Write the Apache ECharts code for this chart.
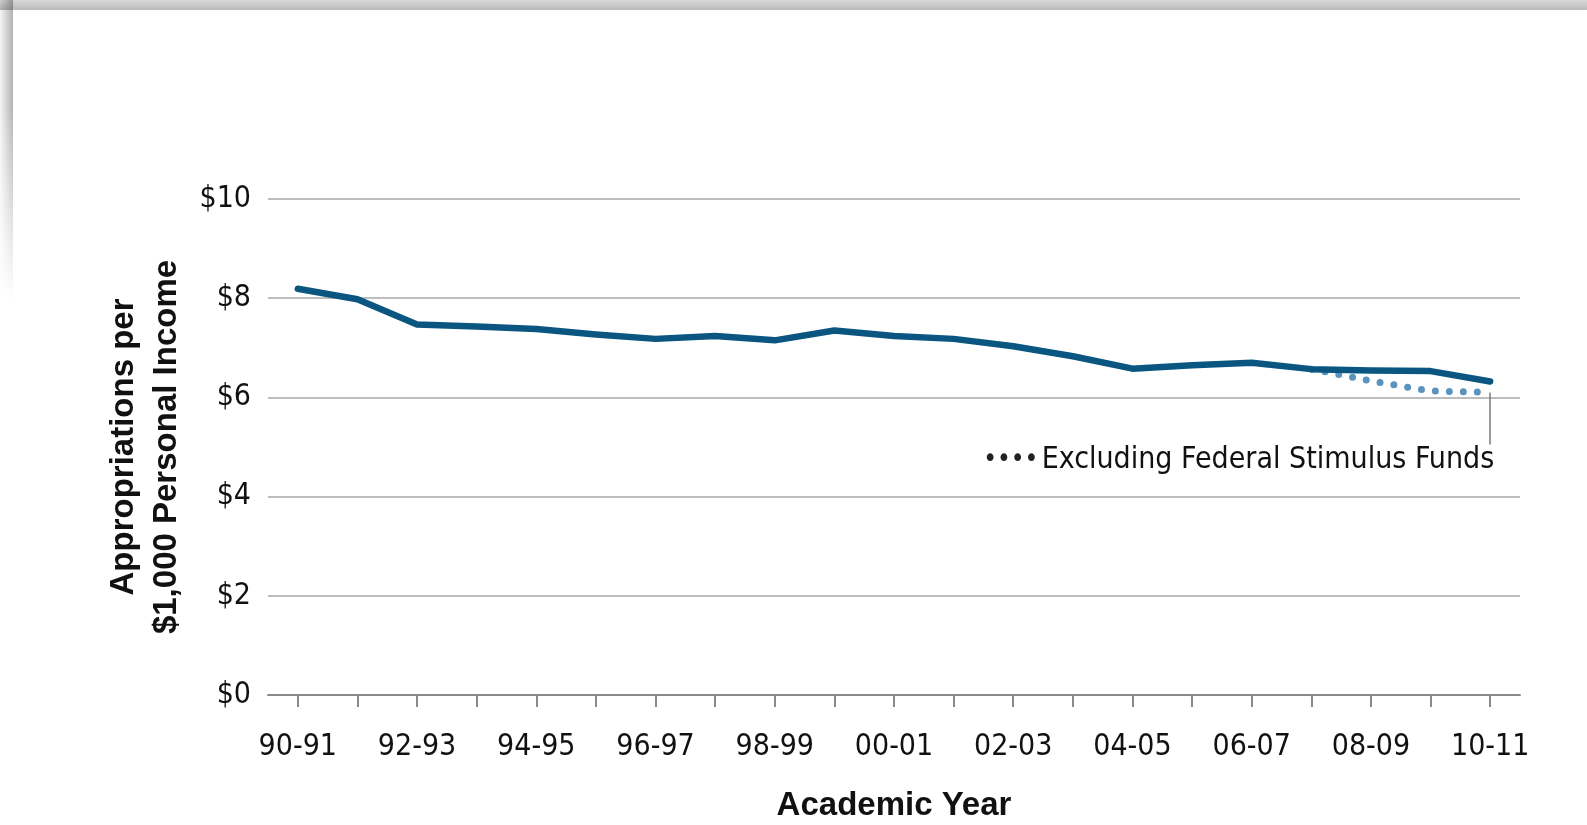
<!DOCTYPE html>
<html>
<head>
<meta charset="utf-8">
<script src="https://cdn.jsdelivr.net/npm/echarts@6/dist/echarts.min.js"></script>
<style>
  html, body { margin: 0; padding: 0; background: #fff; }
  #wrap { position: relative; width: 1587px; height: 825px; overflow: hidden; background: #fff; }
  #topShade { position: absolute; left: 0; top: 0; width: 1587px; height: 10px;
    background: linear-gradient(to bottom, #d9d9d9, #b9b9b9); }
  #leftShade { position: absolute; left: 0; top: 0; width: 13px; height: 300px;
    background: linear-gradient(to right, rgba(0,0,0,0.04), rgba(0,0,0,0.30));
    -webkit-mask-image: linear-gradient(to bottom, #000 0%, #000 35%, transparent 100%);
    mask-image: linear-gradient(to bottom, #000 0%, #000 35%, transparent 100%); }
  #chart { position: absolute; left: 0; top: 0; width: 1587px; height: 825px; }
</style>
</head>
<body>
<div id="wrap">
  <div id="topShade"></div>
  <div id="leftShade"></div>
  <div id="chart"></div>
</div>
<script>
const categories = ['90-91','91-92','92-93','93-94','94-95','95-96','96-97','97-98','98-99','99-00',
                    '00-01','01-02','02-03','03-04','04-05','05-06','06-07','07-08','08-09','09-10','10-11'];
const appropriations = [8.19, 7.98, 7.47, 7.43, 7.38, 7.27, 7.18, 7.24, 7.15, 7.35,
                        7.24, 7.18, 7.03, 6.83, 6.58, 6.65, 6.70, 6.57, 6.54, 6.53, 6.32];
const excludingStimulus = [null, null, null, null, null, null, null, null, null, null,
                           null, null, null, null, null, null, null, 6.57, 6.33, 6.13, 6.10];
const yTicks = [0, 2, 4, 6, 8, 10];
const annotationText = 'Excluding Federal Stimulus Funds';
const annotationLineEnd = 5.05;
const annotationLabelAt = 4.73;

const narrow = "'Liberation Sans Narrow', 'Arial Narrow', 'DejaVu Sans Condensed', sans-serif";
const boldFont = "'Liberation Sans', Arial, sans-serif";

const chart = echarts.init(document.getElementById('chart'), null, { renderer: 'canvas' });
chart.setOption({
  backgroundColor: 'transparent',
  animation: false,
  grid: { left: 268, right: 67, top: 199, bottom: 130, containLabel: false, outerBoundsMode: 'none' },
  xAxis: {
    type: 'category',
    data: categories,
    boundaryGap: true,
    name: 'Academic Year',
    nameLocation: 'middle',
    nameGap: 94,
    nameTextStyle: { fontFamily: boldFont, fontWeight: 'bold', fontSize: 33, color: '#111' },
    axisLine: { show: true, lineStyle: { color: '#8a8a8a', width: 2 } },
    axisTick: { show: true, alignWithLabel: true, interval: 0, length: 12, lineStyle: { color: '#8a8a8a', width: 2 } },
    axisLabel: { interval: 1, margin: 37, fontFamily: narrow, fontSize: 30, color: '#111' },
    splitLine: { show: false }
  },
  yAxis: {
    type: 'value',
    min: yTicks[0],
    max: yTicks[yTicks.length - 1],
    interval: 2,
    name: 'Appropriations per\n$1,000 Personal Income',
    nameLocation: 'middle',
    nameGap: 71,
    nameTextStyle: { fontFamily: boldFont, fontWeight: 'bold', fontSize: 33, lineHeight: 43, color: '#111', align: 'center' },
    axisLine: { show: false },
    axisTick: { show: false },
    axisLabel: { margin: 17, fontFamily: narrow, fontSize: 30, color: '#111',
      formatter: v => '$' + v },
    splitLine: { show: true, lineStyle: { color: '#bdbdbd', width: 2 } }
  },
  series: [
    {
      name: 'Excluding Federal Stimulus Funds',
      type: 'line',
      data: excludingStimulus,
      z: 2,
      symbol: 'none',
      connectNulls: false,
      lineStyle: { color: '#5b93bf', width: 7, type: [0, 14], cap: 'round' },
      markLine: {
        silent: true,
        symbol: ['none', 'none'],
        label: { show: false },
        lineStyle: { color: '#7a7a7a', width: 1.5, type: 'solid' },
        data: [[ { coord: [categories[20], excludingStimulus[20]] }, { coord: [categories[20], annotationLineEnd] } ]]
      },
      markPoint: {
        silent: true,
        symbol: 'circle',
        symbolSize: 0,
        data: [ { coord: [categories[20], annotationLabelAt] } ],
        label: {
          show: true,
          position: 'left',
          distance: 0,
          offset: [4, 0],
          formatter: '{d|••••} {t|' + annotationText + '}',
          rich: {
            d: { fontFamily: narrow, fontSize: 26, color: '#222' },
            t: { fontFamily: narrow, fontSize: 30, color: '#111' }
          }
        }
      }
    },
    {
      name: 'Appropriations',
      type: 'line',
      data: appropriations,
      z: 3,
      symbol: 'none',
      lineStyle: { color: '#0a5681', width: 6.5, cap: 'round', join: 'round' }
    }
  ]
});
</script>
</body>
</html>
